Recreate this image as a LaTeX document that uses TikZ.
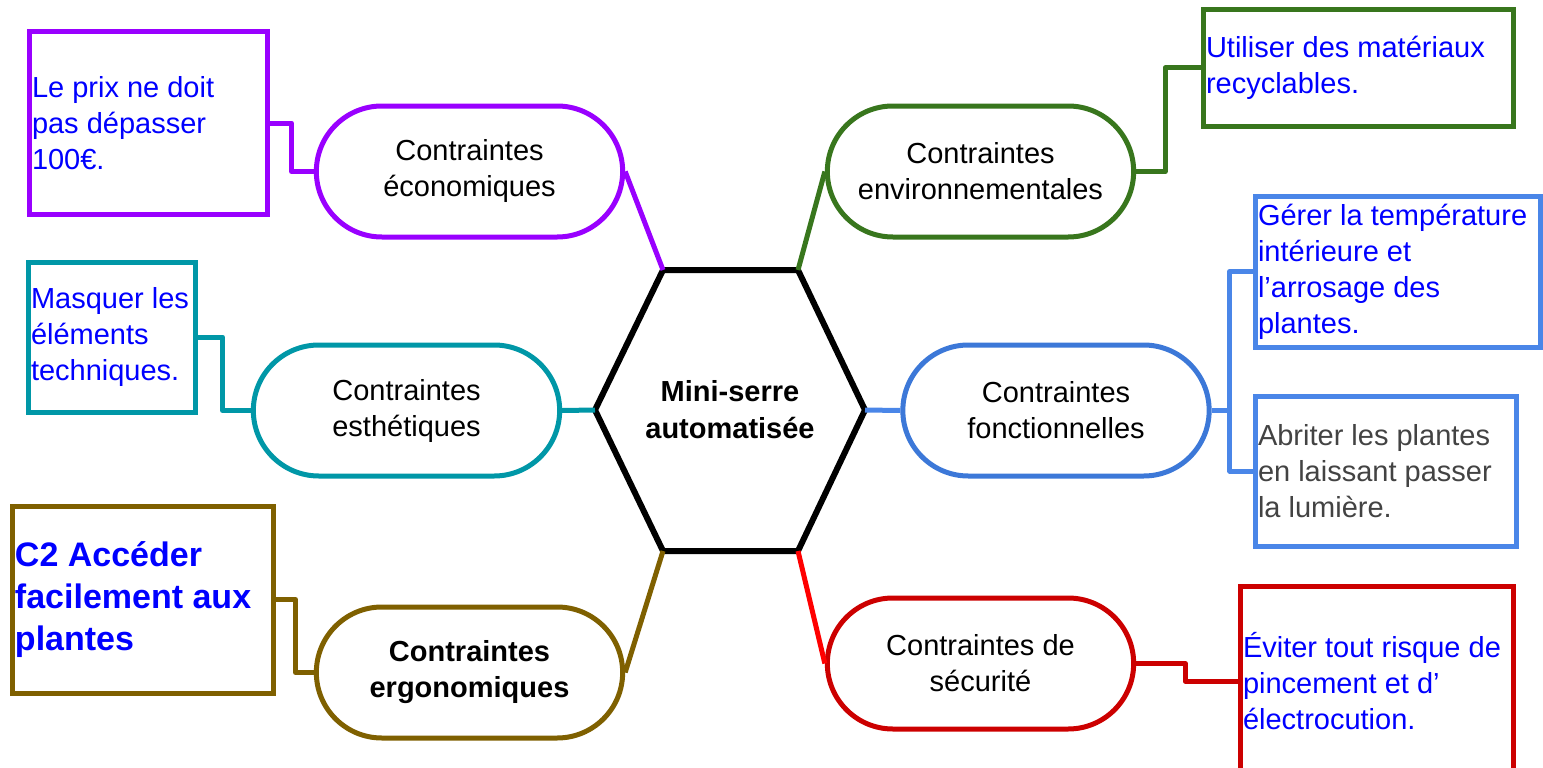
\documentclass[tikz,border=0pt]{standalone}
\usepackage{fontspec}
\setmainfont{Liberation Sans}
\usepackage{tikz}
\usetikzlibrary{shapes.misc}

\definecolor{ecoviolet}{HTML}{9900FF}
\definecolor{envgreen}{HTML}{38761D}
\definecolor{estteal}{HTML}{0097A7}
\definecolor{foncblue}{HTML}{4A86E8}
\definecolor{foncdark}{HTML}{3C78D8}
\definecolor{ergbrown}{HTML}{7F6000}
\definecolor{secured}{HTML}{CC0000}
\definecolor{securedlight}{HTML}{FF0000}
\definecolor{textblue}{HTML}{0000FF}
\definecolor{textgray}{HTML}{434343}

\newcommand\espacenormal{\spaceskip=0pt\relax}

\tikzset{
    bulle/.style={rounded rectangle, draw, line width=5pt, fill=white, minimum width=313pt, minimum height=131pt, align=center, font=\fontsize{29}{36}\selectfont, execute at begin node=\espacenormal},
    cadre/.style={rectangle, draw, line width=5pt, fill=white, inner xsep=3pt, inner ysep=0pt, align=left, text=textblue, font=\fontsize{29}{36}\selectfont, execute at begin node=\espacenormal},
    lien/.style={line width=5pt, line join=round}
}

\begin{document}
\begin{tikzpicture}[x=1pt,y=-1pt]
        \useasboundingbox (0,0) rectangle (1543,768);

        \coordinate (h1) at (663,270);
        \coordinate (h2) at (798,270);
        \coordinate (h3) at (865,410);
        \coordinate (h4) at (798,551);
        \coordinate (h5) at (663,551);
        \coordinate (h6) at (595,410);
        \draw[line width=6pt] (h1) -- (h2) -- (h3) -- (h4) -- (h5) -- (h6) -- cycle;
        \node[align=center, font=\bfseries\fontsize{29}{37}\selectfont] (serre) at (730,410) {Mini-serre\\automatisée};

        \node[bulle, draw=ecoviolet] (eco) at (469.5,171.5) {Contraintes\\économiques};
        \node[bulle, draw=envgreen] (env) at (980.5,171.5) {Contraintes\\environnementales};
        \node[bulle, draw=estteal] (est) at (406.5,410.5) {Contraintes\\esthétiques};
        \node[bulle, draw=foncdark] (fonc) at (1056,410.5) {Contraintes\\fonctionnelles};
        \node[bulle, draw=ergbrown, font=\bfseries\fontsize{29}{36}\selectfont] (erg) at (469.5,672.5) {Contraintes\\ergonomiques};
        \node[bulle, draw=secured] (secu) at (980.5,663.5) {Contraintes de\\sécurité};

        \node[cadre, draw=ecoviolet, text width=232pt, minimum height=182pt] (prix) at (148,123) {Le prix ne doit\\pas dépasser\\100€.};
        \node[cadre, draw=envgreen, text width=304pt, minimum height=116pt] (recyc) at (1358,68) {Utiliser des matériaux\\recyclables.};
        \node[cadre, draw=estteal, text width=161pt, minimum height=150pt] (masq) at (111.5,337) {Masquer les\\éléments\\techniques.};
        \node[cadre, draw=foncblue, text width=279pt, minimum height=151pt] (gerer) at (1397.5,271.5) {Gérer la température\\intérieure et\\l’arrosage des\\plantes.};
        \node[cadre, draw=foncblue, text=textgray, text width=255pt, minimum height=150pt] (abriter) at (1385.5,471) {Abriter les plantes\\en laissant passer\\la lumière.};
        \node[cadre, draw=ergbrown, text width=255pt, minimum height=187pt, font=\bfseries\fontsize{34}{42}\selectfont] (acceder) at (142.5,599.5) {C2 Accéder\\facilement aux\\plantes};
        \node[cadre, draw=secured, text width=267pt, minimum height=190pt] (eviter) at (1376.5,681) {Éviter tout risque de\\pincement et d’\\électrocution.};

        \draw[lien, ecoviolet] (h1) -- (eco.east);
        \draw[lien, envgreen] (h2) -- (env.west);
        \draw[lien, estteal] (h6) -- (est.east);
        \draw[lien, foncblue] (h3) -- (fonc.west);
        \draw[lien, ergbrown] (h5) -- (erg.east);
        \draw[lien, securedlight] (h4) -- (secu.west);

        \draw[lien, ecoviolet] (prix.east) -- ++(22,0) |- (eco.west);
        \draw[lien, envgreen] (env.east) -- ++(29,0) |- (recyc.west);
        \draw[lien, estteal] (masq.east) -- ++(25,0) |- (est.west);
        \draw[lien, foncblue] (fonc.east) -- ++(18,0) coordinate (fj);
        \draw[lien, foncblue] (fj) |- (gerer.west);
        \draw[lien, foncblue] (fj) |- (abriter.west);
        \draw[lien, ergbrown] (acceder.east) -- ++(20,0) |- (erg.west);
        \draw[lien, secured] (secu.east) -- ++(49,0) |- (eviter.west);
\end{tikzpicture}
\end{document}
